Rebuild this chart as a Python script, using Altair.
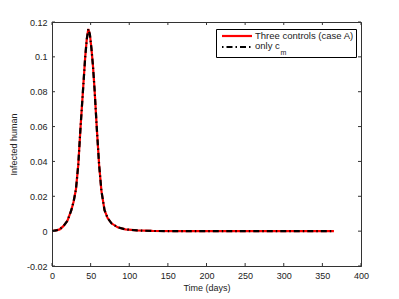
import altair as alt
import pandas as pd

# ---- data ----
time_days = [0, 5, 10, 15, 20, 25, 28, 31, 34, 37, 40, 43, 45, 47, 49, 51, 53, 55, 58,
             61, 64, 68, 72, 77, 85, 95, 110, 130, 160, 200, 250, 300, 365]
three_controls = [0, 0.0004, 0.001, 0.003, 0.006, 0.012, 0.017, 0.024, 0.038, 0.060,
                  0.080, 0.100, 0.110, 0.116, 0.113, 0.105, 0.095, 0.082, 0.059,
                  0.038, 0.023, 0.012, 0.0075, 0.0045, 0.0022, 0.001, 0.0004, 0.0001,
                  0, 0, 0, 0, 0]
only_cm = [0, 0.0004, 0.001, 0.003, 0.006, 0.012, 0.017, 0.024, 0.038, 0.060,
           0.080, 0.100, 0.110, 0.116, 0.113, 0.105, 0.095, 0.082, 0.059,
           0.038, 0.023, 0.012, 0.0075, 0.0045, 0.0022, 0.001, 0.0004, 0.0001,
           0, 0, 0, 0, 0]
x_ticks = [0, 50, 100, 150, 200, 250, 300, 350, 400]
y_ticks = [-0.02, 0, 0.02, 0.04, 0.06, 0.08, 0.1, 0.12]
legend_labels = ["Three controls (case A)", "only c"]

W, H = 309, 244
FONT = "Liberation Sans"
TXT = "#222222"

df = pd.DataFrame({"t": time_days, "a": three_controls, "b": only_cm})
xsc = alt.Scale(domain=[0, 400], nice=False, zero=False)
ysc = alt.Scale(domain=[-0.02, 0.12], nice=False, zero=False)

xaxis = alt.Axis(values=x_ticks, ticks=False, grid=False, labelFont=FONT, labelFontSize=9,
                 labelColor=TXT, labelPadding=5, labelOverlap=False, labelBound=False,
                 title="Time (days)", titleFont=FONT,
                 titleFontSize=9, titleFontWeight="normal", titleColor=TXT, titlePadding=3,
                 domainColor="#333333", labelFlush=False)
yaxis = alt.Axis(values=y_ticks, ticks=False, grid=False, labelFont=FONT, labelFontSize=9,
                 labelColor=TXT, labelPadding=5, labelOverlap=False, labelBound=False,
                 labelExpr="replace(format(datum.value, '~g'), '\u2212', '-')",
                 title="Infected human", titleFont=FONT, titleFontSize=9,
                 titleFontWeight="normal", titleColor=TXT, titlePadding=8,
                 domainColor="#333333", labelFlush=False)

base = alt.Chart(df)
red = base.mark_line(color="#ff0000", strokeWidth=2.2, clip=True).encode(
    x=alt.X("t:Q", scale=xsc, axis=xaxis, title="Time (days)"),
    y=alt.Y("a:Q", scale=ysc, axis=yaxis, title="Infected human"),
)
black = base.mark_line(color="#000000", strokeWidth=2.2, strokeDash=[6, 3, 1.5, 3], clip=True).encode(
    x=alt.X("t:Q", scale=xsc, axis=xaxis, title="Time (days)"),
    y=alt.Y("b:Q", scale=ysc, axis=yaxis, title="Infected human"),
)

xt = alt.Chart(pd.DataFrame({"t": x_ticks}))
yt = alt.Chart(pd.DataFrame({"a": y_ticks}))
tick_col = "#333333"
xt_bot = xt.mark_rule(color=tick_col, strokeWidth=1).encode(
    x=alt.X("t:Q", scale=xsc, axis=xaxis, title="Time (days)"), y=alt.value(H), y2=alt.value(H - 3))
xt_top = xt.mark_rule(color=tick_col, strokeWidth=1).encode(
    x=alt.X("t:Q", scale=xsc, axis=xaxis, title="Time (days)"), y=alt.value(0), y2=alt.value(3))
yt_left = yt.mark_rule(color=tick_col, strokeWidth=1).encode(
    y=alt.Y("a:Q", scale=ysc, axis=yaxis, title="Infected human"), x=alt.value(0), x2=alt.value(3))
yt_right = yt.mark_rule(color=tick_col, strokeWidth=1).encode(
    y=alt.Y("a:Q", scale=ysc, axis=yaxis, title="Infected human"), x=alt.value(W), x2=alt.value(W - 3))

# ---- manual legend ----
leg_box = alt.Chart(pd.DataFrame({"k": [0]})).mark_rect(
    fill="white", stroke="#000000", strokeWidth=1).encode(
    x=alt.value(164.5), x2=alt.value(304.5), y=alt.value(7.5), y2=alt.value(35.5))
leg_red = alt.Chart(pd.DataFrame({"k": [0]})).mark_rule(color="#ff0000", strokeWidth=2.2).encode(
    x=alt.value(170), x2=alt.value(200), y=alt.value(14))
leg_black = alt.Chart(pd.DataFrame({"k": [0]})).mark_rule(
    color="#000000", strokeWidth=2.2, strokeDash=[1.5, 3, 6, 3]).encode(
    x=alt.value(170), x2=alt.value(200), y=alt.value(25))
leg_t1 = alt.Chart(pd.DataFrame({"s": [legend_labels[0]]})).mark_text(
    align="left", baseline="middle", font=FONT, fontSize=9.5, color=TXT).encode(
    x=alt.value(203), y=alt.value(14), text="s:N")
leg_t2 = alt.Chart(pd.DataFrame({"s": [legend_labels[1]]})).mark_text(
    align="left", baseline="middle", font=FONT, fontSize=9.5, color=TXT).encode(
    x=alt.value(203), y=alt.value(24), text="s:N")
leg_sub = alt.Chart(pd.DataFrame({"s": ["m"]})).mark_text(
    align="left", baseline="middle", font=FONT, fontSize=7, color=TXT).encode(
    x=alt.value(228.5), y=alt.value(30.5), text="s:N")

chart = alt.layer(
    red, black, xt_bot, xt_top, yt_left, yt_right,
    leg_box, leg_red, leg_black, leg_t1, leg_t2, leg_sub
).properties(
    width=W, height=H,
    autosize=alt.AutoSizeParams(type="none"),
    padding={"left": 44, "top": 14, "right": 30, "bottom": 30},
    background="white",
).configure_view(stroke="#333333", strokeWidth=1)

chart.save("out.html", embed_options={"renderer": "svg", "actions": False})
